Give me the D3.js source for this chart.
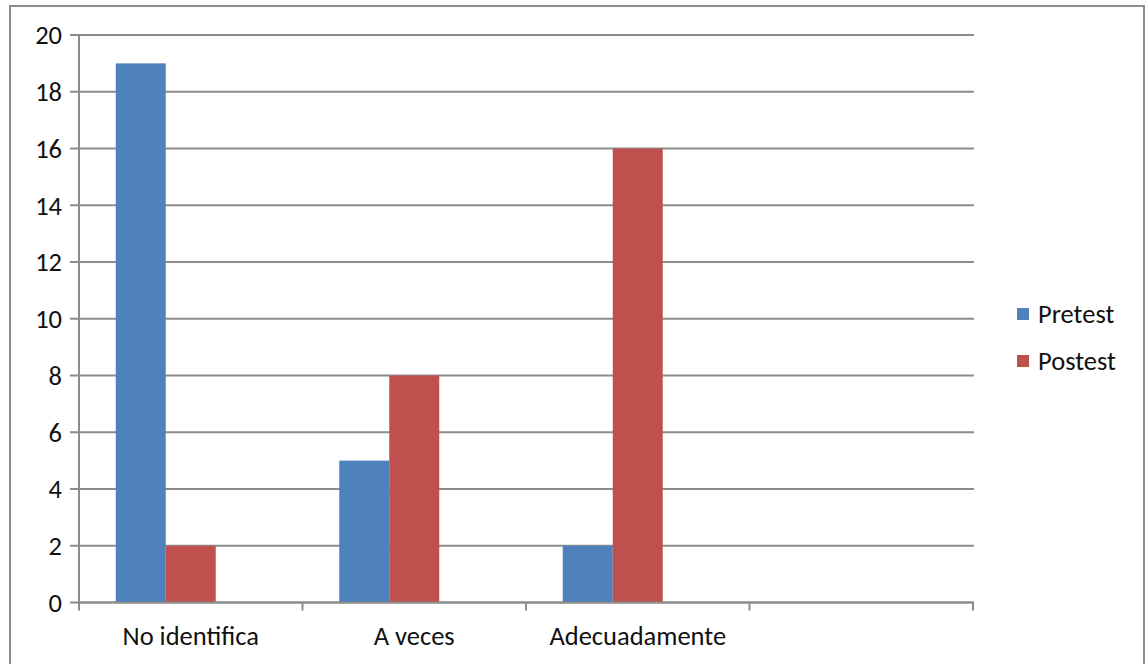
<!DOCTYPE html>
<html>
<head>
<meta charset="utf-8">
<script src="https://cdn.jsdelivr.net/npm/d3@7"></script>
<style>
  body { margin: 0; background: #fff; }
  text { font-family: Carlito, "Open Sans", "Noto Sans", sans-serif; fill: #111; }
</style>
</head>
<body>
<script>
// chart data
var categories = ["No identifica", "A veces", "Adecuadamente", ""]
var series = ["Pretest", "Postest", ""]
var pretest = [19, 5, 2, null]
var postest = [2, 8, 16, null]
var yTicks = [0, 2, 4, 6, 8, 10, 12, 14, 16, 18, 20]
var colors = ["#4f81bd", "#c0504d", "none"]

var W = 1146, H = 664
var plot = { left: 79, right: 973, top: 35, bottom: 602.5 }
var fontSize = "26.5px"

var svg = d3.select("body").append("svg")
    .attr("width", W)
    .attr("height", H)

// outer chart border (bottom edge is cut off)
svg.append("path")
    .attr("d", "M10," + H + " L10,6 L1144,6 L1144," + H)
    .style("fill", "none")
    .style("stroke", "#8c8c8c")
    .style("stroke-width", 2)

var x = d3.scaleBand()
    .domain(d3.range(categories.length))
    .range([plot.left, plot.right])

var y = d3.scaleLinear()
    .domain([0, 20])
    .range([plot.bottom, plot.top])

// gridlines
svg.append("g").selectAll("line")
    .data(yTicks)
    .enter().append("line")
    .attr("x1", plot.left - 9)
    .attr("x2", plot.right + 1)
    .attr("y1", function(d) { return y(d) })
    .attr("y2", function(d) { return y(d) })
    .style("stroke", "#8c8c8c")
    .style("stroke-width", 2)

// bars: three series per slot, the third one is empty
var slot = x.bandwidth()
var barW = slot / (3 + 1.47)
var gap = (slot - 3 * barW) / 2
var values = [pretest, postest, [null, null, null, null]]

values.forEach(function(vals, s) {
    svg.append("g").selectAll("rect")
        .data(vals.map(function(v, i) { return { v: v, i: i } })
                  .filter(function(d) { return d.v != null }))
        .enter().append("rect")
        .attr("x", function(d) { return x(d.i) + gap + s * barW })
        .attr("width", barW)
        .attr("y", function(d) { return y(d.v) })
        .attr("height", function(d) { return y(0) - y(d.v) })
        .style("fill", colors[s])
})

// y axis
var yAxis = svg.append("g")
    .attr("transform", "translate(" + plot.left + ",0)")
yAxis.append("line")
    .attr("y1", plot.top - 1).attr("y2", plot.bottom + 1)
    .style("stroke", "#8c8c8c").style("stroke-width", 2)
yAxis.selectAll("text")
    .data(yTicks)
    .enter().append("text")
    .attr("x", -17)
    .attr("y", function(d) { return y(d) })
    .attr("dy", "0.35em")
    .attr("text-anchor", "end")
    .style("font-size", fontSize)
    .text(function(d) { return d })

// x axis
var xAxis = svg.append("g")
xAxis.append("line")
    .attr("x1", plot.left).attr("x2", plot.right + 1)
    .attr("y1", plot.bottom).attr("y2", plot.bottom)
    .style("stroke", "#8c8c8c").style("stroke-width", 2)
xAxis.selectAll(".tick")
    .data(d3.range(categories.length + 1))
    .enter().append("line")
    .attr("class", "tick")
    .attr("x1", function(i) { return plot.left + i * slot })
    .attr("x2", function(i) { return plot.left + i * slot })
    .attr("y1", plot.bottom)
    .attr("y2", plot.bottom + 8)
    .style("stroke", "#8c8c8c").style("stroke-width", 2)
xAxis.selectAll("text")
    .data(categories)
    .enter().append("text")
    .attr("x", function(d, i) { return x(i) + slot / 2 })
    .attr("y", 645)
    .attr("text-anchor", "middle")
    .style("font-size", fontSize)
    .text(function(d) { return d })

// legend
var legend = svg.append("g")
    .selectAll("g")
    .data(series.slice(0, 2))
    .enter().append("g")
    .attr("transform", function(d, i) { return "translate(1017," + (308 + i * 47) + ")" })
legend.append("rect")
    .attr("width", 12).attr("height", 12)
    .style("fill", function(d, i) { return colors[i] })
legend.append("text")
    .attr("x", 21)
    .attr("y", 6)
    .attr("dy", "0.35em")
    .style("font-size", fontSize)
    .text(function(d) { return d })
</script>
</body>
</html>
